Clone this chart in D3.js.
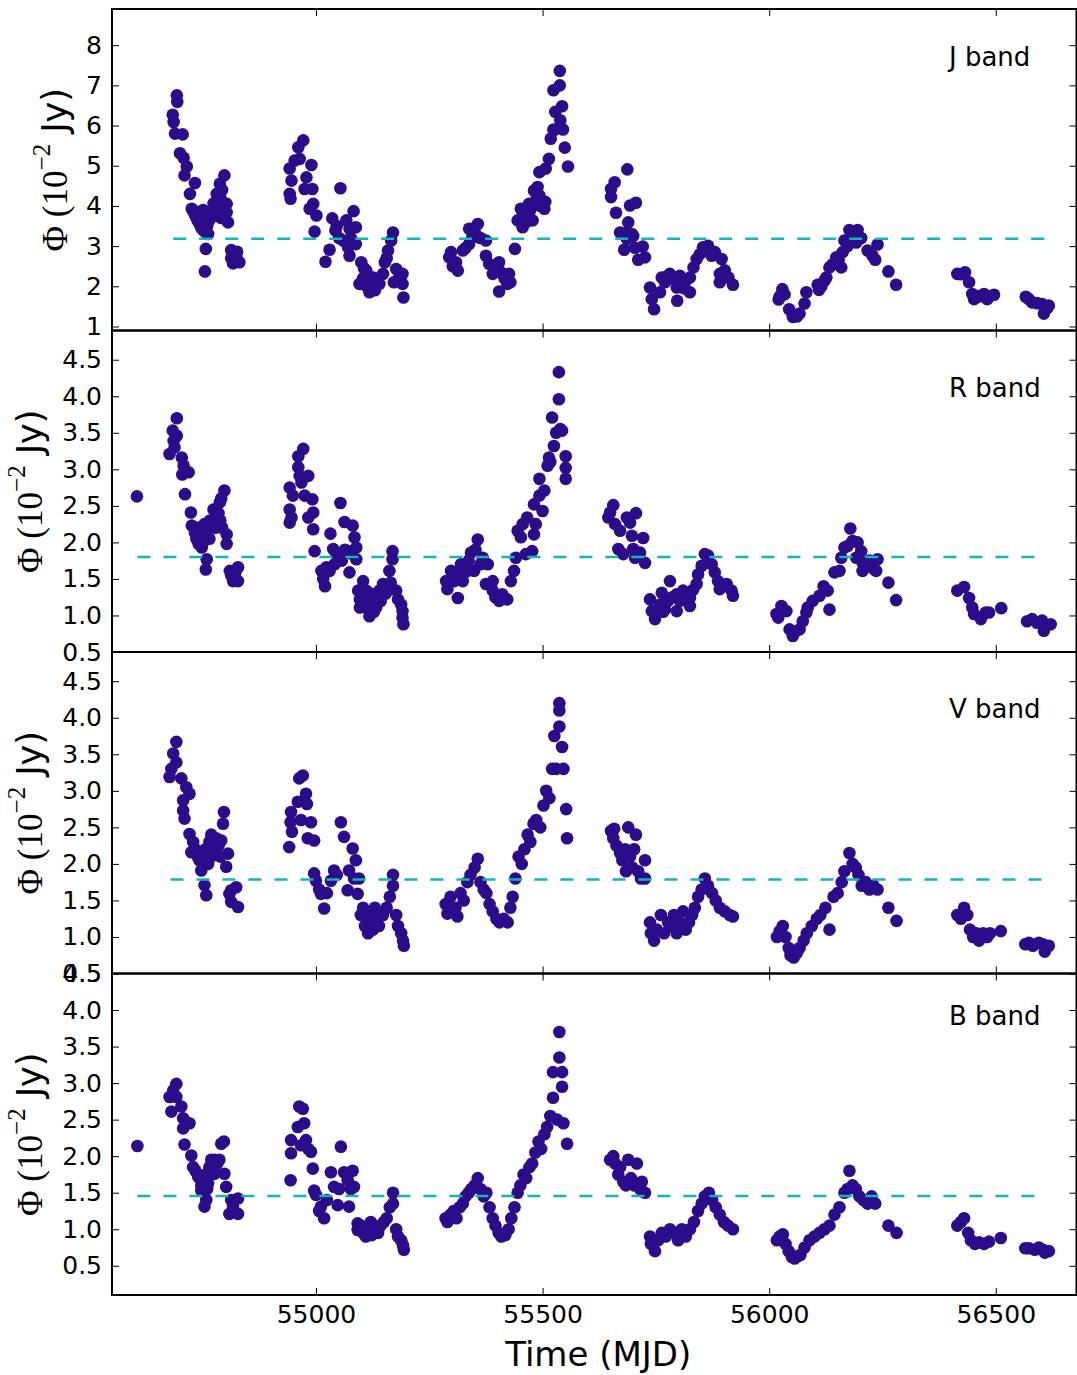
<!DOCTYPE html>
<html><head><meta charset="utf-8">
<script src="https://cdn.jsdelivr.net/npm/d3@7"></script>
<style>body{margin:0;background:#fff} svg{display:block}</style>
</head><body>
<svg id="c" width="1077" height="1375"></svg>
<script>
// ---------- DATA ----------
const bandNames = ["J band", "R band", "V band", "B band"];
const xTicks = [55000, 55500, 56000, 56500];
const yTicksJ = [1, 2, 3, 4, 5, 6, 7, 8];
const yTicksRV = [0.5, 1.0, 1.5, 2.0, 2.5, 3.0, 3.5, 4.0, 4.5];
const yTicksB = [0.5, 1.0, 1.5, 2.0, 2.5, 3.0, 3.5, 4.0, 4.5];
const yDomains = [[0.9, 8.9], [0.5, 4.9], [0.5, 4.9], [0.1, 4.5]];
const meanFlux = [3.185, 1.80, 1.785, 1.456];
const meanStart = [54685, 54606, 54679, 54606];
const meanEnd = [56615, 56594, 56615, 56594];

const jBand = [
[54693,6.75],[54694,6.59],[54684,6.27],[54686,6.09],[54689,5.80],[54706,5.78],[54700,5.31],[54708,5.20],[54715,4.98],[54710,4.76],[54733,4.57],[54722,4.30],[54726,3.93],
[54730,3.85],[54734,3.75],[54738,3.65],[54743,3.55],[54747,3.45],[54751,3.40],[54756,3.35],[54760,3.50],[54765,3.65],[54769,3.80],[54738,3.85],[54747,3.70],[54756,3.62],[54762,3.30],[54751,3.90],
[54757,2.93],[54755,2.37],
[54774,4.06],[54781,4.30],[54788,4.55],[54798,4.76],[54803,4.05],[54806,3.59],[54803,3.84],[54778,4.00],[54782,4.15],[54789,4.20],[54793,4.40],[54796,3.90],[54791,3.70],[54785,3.85],[54776,3.75],
[54813,2.90],[54826,2.86],[54813,2.70],[54831,2.60],[54817,2.57],[54824,2.75],
[54942,4.93],[54946,4.63],[54942,4.30],[54944,4.18],[54961,5.46],[54972,5.63],[54964,5.17],[54953,5.13],[54990,5.02],[54979,4.71],[54975,4.42],[54992,4.42],[54994,4.05],[54986,3.93],[55001,3.76],[54997,3.36],
[55054,4.44],[55036,3.69],[55067,3.64],[55083,3.87],[55043,3.39],[55074,3.43],[55088,3.47],[55030,2.91],[55021,2.61],[55060,3.14],[55071,2.97],[55074,2.76],[55088,3.05],
[55100,2.60],[55111,2.39],[55096,2.06],[55118,1.85],[55140,2.06],[55126,2.22],[55148,2.31],[55104,2.20],[55112,2.00],[55121,1.95],[55130,1.90],[55134,2.10],[55106,2.45],[55051,3.20],[55046,3.50],[55077,3.20],
[55170,3.34],[55159,2.89],[55152,2.60],[55177,2.43],[55191,2.31],[55191,2.06],[55193,1.72],[55166,3.14],[55156,2.70],[55183,2.20],[55172,2.10],
[55298,2.85],[55294,2.72],[55309,2.60],[55313,2.39],[55324,2.89],[55338,3.05],[55357,3.55],[55338,3.43],[55345,3.22],[55375,3.14],[55330,2.95],[55352,3.30],[55363,3.20],[55302,2.50],
[55375,2.76],[55382,2.56],[55390,2.31],[55404,2.60],[55408,2.35],[55426,2.31],[55422,2.06],[55404,1.87],[55396,2.40],[55416,2.20],[55429,2.10],
[55439,2.93],[55445,3.64],[55452,3.93],[55456,3.47],[55470,4.05],[55478,3.64],[55481,4.38],[55489,4.47],[55504,3.93],[55493,4.26],[55485,4.13],[55462,3.80],[55473,3.90],[55495,4.00],[55506,4.10],[55464,3.60],
[55493,4.84],[55507,4.93],[55514,5.17],[55518,5.67],[55525,5.88],[55538,7.36],[55524,6.88],[55538,7.00],[55543,6.48],[55528,6.34],[55539,6.13],[55524,5.90],[55545,5.90],[55549,5.45],[55556,4.98],
[55687,4.91],[55659,4.59],[55651,4.42],[55651,4.22],[55662,3.83],[55693,4.01],[55706,4.08],[55689,3.59],[55671,3.34],[55686,3.34],[55697,3.30],[55686,3.18],[55680,2.91],[55704,2.96],[55721,2.99],[55711,2.66],[55726,2.72],[55676,3.30],[55700,3.25],
[55737,1.97],[55741,1.68],[55746,1.43],[55763,2.22],[55781,2.31],[55759,1.85],[55796,1.97],[55797,1.64],[55803,2.26],[55825,1.85],[55825,2.22],[55833,2.47],[55840,2.68],[55854,2.97],[55865,3.01],[55873,2.76],[55895,2.68],[55891,2.31],[55891,2.10],[55910,2.22],[55920,2.04],[55770,2.10],[55788,2.20],[55814,2.10],[55847,2.80],[55880,2.85],[55858,2.90],[55902,2.40],[55812,1.95],[55775,2.25],
[56021,1.67],[56029,1.93],[56044,1.43],[56052,1.24],[56067,1.32],[56078,1.57],[56082,1.85],[56034,1.80],[56061,1.25],[56023,1.75],
[56110,1.91],[56107,2.04],[56122,2.14],[56126,2.22],[56133,2.47],[56148,2.72],[56162,2.85],[56159,2.47],[56166,3.14],[56177,3.40],[56195,3.40],[56192,3.09],[56184,3.14],[56217,2.89],[56228,2.76],[56239,3.04],[56234,2.66],[56263,2.37],[56280,2.04],[56140,2.55],[56173,3.00],[56203,3.20],[56115,2.00],[56153,2.65],
[56415,2.31],[56432,2.35],[56441,2.10],[56448,1.81],[56452,1.68],[56474,1.81],[56481,1.68],[56496,1.79],[56463,1.75],[56423,2.30],[56457,1.75],
[56566,1.74],[56580,1.60],[56602,1.56],[56617,1.52],[56606,1.32],[56573,1.68],[56591,1.58],[56613,1.45]
];

const rBand = [
[54605,2.63],
[54693,3.70],[54684,3.53],[54693,3.46],[54686,3.39],[54688,3.30],[54677,3.21],[54704,3.16],[54708,3.05],[54719,2.96],[54705,2.93],[54711,2.66],[54724,2.41],[54726,2.23],[54733,2.13],[54744,2.07],[54748,1.93],
[54736,2.05],[54741,1.98],[54751,2.00],[54756,2.10],[54760,2.20],[54765,2.05],[54769,2.25],[54738,2.20],[54747,2.15],[54754,2.25],
[54774,2.45],[54788,2.55],[54798,2.71],[54781,2.34],[54803,2.11],[54803,1.98],[54759,2.07],[54766,2.30],[54778,2.20],[54785,2.40],[54791,2.60],[54793,2.20],[54789,2.30],
[54759,1.77],[54757,1.63],[54810,1.61],[54828,1.66],[54817,1.47],[54828,1.47],[54813,1.55],[54822,1.58],
[54942,2.75],[54949,2.64],[54942,2.45],[54946,2.34],[54942,2.27],[54961,3.18],[54972,3.28],[54961,3.03],[54964,2.91],[54968,2.82],[54983,2.91],[54975,2.64],[54992,2.59],[54994,2.41],[54983,2.34],[54994,2.18],[54997,1.88],
[55054,2.54],[55063,2.28],[55081,2.23],[55085,2.07],[55089,1.93],[55071,1.88],[55089,1.77],[55032,2.12],[55038,1.91],[55045,1.84],[55041,1.70],[55023,1.66],[55012,1.61],[55016,1.50],[55020,1.40],[55030,1.61],[55074,1.59],[55051,1.85],[55064,1.90],[55077,1.85],[55057,1.75],
[55104,1.47],[55093,1.34],[55097,1.22],[55097,1.11],[55118,0.99],[55118,1.15],[55133,1.24],[55140,1.34],[55148,1.43],[55162,1.61],[55169,1.88],[55169,1.77],[55177,1.34],[55181,1.22],[55188,1.15],[55191,1.06],[55191,0.97],[55193,0.88],[55111,1.34],[55133,1.11],
[55106,1.20],[55113,1.10],[55123,1.20],[55128,1.05],[55143,1.20],[55154,1.30],[55165,1.45],[55101,1.30],[55121,1.30],
[55287,1.47],[55290,1.36],[55298,1.61],[55313,1.24],[55305,1.47],[55324,1.47],[55320,1.70],[55342,1.86],[55357,2.04],[55349,1.61],[55368,1.79],[55379,1.70],[55390,1.47],[55375,1.43],[55332,1.60],[55337,1.75],[55352,1.90],[55363,1.70],[55310,1.55],
[55390,1.34],[55404,1.20],[55422,1.22],[55411,1.29],[55396,1.25],
[55430,1.47],[55437,1.61],[55441,1.79],[55452,2.07],[55445,2.16],[55456,2.25],[55466,2.34],[55485,2.25],[55481,2.11],[55477,1.88],[55463,1.84],
[55481,2.52],[55493,2.64],[55504,2.71],[55500,2.43],[55493,2.87],[55511,3.05],[55514,3.16],[55525,3.32],[55521,3.71],[55536,3.96],[55543,3.53],[55536,4.33],[55551,3.18],[55551,3.02],[55551,2.87],[55530,3.50],[55539,3.55],[55517,3.10],
[55656,2.51],[55649,2.41],[55645,2.34],[55660,2.25],[55671,2.16],[55686,2.34],[55706,2.40],[55693,2.27],[55697,2.09],[55722,2.06],[55667,1.91],[55678,1.84],[55700,1.91],[55715,1.86],[55704,1.79],[55726,1.72],
[55737,1.22],[55741,1.06],[55748,0.95],[55763,1.31],[55781,1.47],[55770,1.08],[55796,1.06],[55796,1.29],[55810,1.34],[55825,1.13],[55825,1.24],[55840,1.43],[55843,1.56],[55851,1.68],[55858,1.84],[55865,1.82],[55880,1.59],[55887,1.47],[55891,1.36],[55906,1.43],[55917,1.34],[55920,1.27],
[55759,1.15],[55777,1.20],[55786,1.25],[55803,1.20],[55816,1.30],[55832,1.35],[55873,1.70],[55766,1.05],
[56016,1.02],[56027,1.13],[56038,1.06],[56020,0.97],[56045,0.81],[56052,0.72],[56067,0.81],[56074,0.92],[56082,1.04],[56085,1.11],[56096,1.20],[56111,1.27],[56120,1.40],[56129,1.34],[56133,1.08],[56144,1.59],[56155,1.61],[56159,1.79],[56166,1.93],[56179,2.19],[56184,2.02],[56195,2.00],[56203,1.88],[56192,1.79],[56206,1.72],[56206,1.61],[56221,1.75],[56232,1.63],[56239,1.77],[56236,1.61],[56263,1.45],[56280,1.21],[56058,0.78],[56173,1.95],[56213,1.70],
[56415,1.34],[56430,1.39],[56441,1.24],[56448,1.11],[56452,1.02],[56467,0.95],[56478,1.04],[56485,1.04],[56512,1.10],
[56569,0.92],[56580,0.95],[56602,0.93],[56606,0.79],[56621,0.88],[56591,0.90]
];

const vBand = [
[54692,3.67],[54685,3.51],[54692,3.39],[54681,3.30],[54677,3.19],[54703,3.17],[54714,3.05],[54721,2.96],[54707,2.87],[54707,2.73],[54710,2.62],[54721,2.41],[54729,2.30],[54725,2.16],[54740,2.09],[54747,1.91],[54762,2.00],[54776,2.18],[54791,2.32],[54795,2.55],[54797,2.71],[54806,2.14],[54802,1.96],[54754,1.71],[54758,1.57],
[54734,2.20],[54743,2.05],[54751,2.10],[54756,2.20],[54765,2.30],[54769,2.40],[54774,2.20],[54780,2.35],[54785,2.25],[54789,2.10],[54769,2.10],[54747,2.15],
[54813,1.64],[54824,1.68],[54813,1.48],[54828,1.41],[54809,1.59],
[54941,2.23],[54947,2.44],[54944,2.57],[54945,2.71],[54963,3.17],[54971,3.21],[54960,2.85],[54978,2.96],[54980,2.82],[54989,2.57],[54982,2.35],[54996,2.32],[54996,1.87],[55000,1.77],[55011,1.59],[55018,1.39],[55033,1.77],[55040,1.91],[55055,2.57],[55062,2.37],[55070,1.64],[55073,1.91],[55081,2.21],[55088,2.05],[55092,1.59],
[54967,2.60],[55007,1.65],[55024,1.60],[55046,1.85],[55084,1.80],[55095,1.80],
[55104,1.40],[55099,1.30],[55108,1.15],[55115,1.05],[55121,1.20],[55126,1.10],[55134,1.25],[55139,1.15],[55148,1.30],[55156,1.40],[55163,1.55],[55170,1.85],[55170,1.70],[55177,1.30],[55181,1.15],[55188,1.05],[55192,0.95],[55194,0.88],[55119,1.30],[55130,1.40],
[55286,1.45],[55290,1.32],[55297,1.55],[55308,1.40],[55312,1.28],[55319,1.60],[55326,1.50],[55334,1.75],[55341,1.85],[55350,1.95],[55357,2.07],[55363,1.75],[55370,1.65],[55376,1.60],[55383,1.45],[55390,1.35],[55398,1.25],[55405,1.20],[55414,1.25],[55423,1.20],[55429,1.40],[55434,1.55],
[55440,1.80],[55447,2.10],[55454,2.00],[55460,2.20],[55467,2.40],[55473,2.30],[55480,2.55],[55486,2.60],[55495,2.50],[55502,2.80],[55508,3.00],[55515,2.90],[55521,3.30],[55526,3.75],[55530,3.30],[55537,4.20],[55537,4.10],[55537,3.88],[55543,3.60],[55546,3.30],[55552,2.75],[55554,2.35],
[55651,2.45],[55658,2.48],[55656,2.35],[55663,2.25],[55671,2.15],[55676,2.05],[55682,2.20],[55689,2.50],[55693,2.10],[55698,1.95],[55706,2.40],[55702,2.20],[55711,1.90],[55717,1.80],[55726,2.05],[55726,1.80],[55684,1.90],
[55737,1.20],[55739,1.05],[55746,0.95],[55752,1.10],[55761,1.30],[55768,1.05],[55777,1.20],[55783,1.15],[55790,1.30],[55796,1.05],[55803,1.20],[55810,1.35],[55816,1.10],[55823,1.20],[55830,1.30],[55836,1.40],[55843,1.55],[55851,1.65],[55858,1.80],[55865,1.70],[55874,1.60],[55882,1.50],[55891,1.40],[55902,1.35],[55913,1.30],[55920,1.28],
[56017,1.00],[56023,1.08],[56030,1.15],[56036,1.00],[56043,0.85],[56047,0.75],[56054,0.72],[56061,0.78],[56067,0.85],[56076,0.95],[56083,1.05],[56094,1.15],[56105,1.25],[56113,1.30],[56124,1.40],[56133,1.10],[56142,1.55],[56151,1.60],[56160,1.75],[56166,1.90],[56177,2.15],[56184,2.00],[56191,1.95],[56197,1.85],[56204,1.70],[56213,1.75],[56221,1.65],[56230,1.70],[56239,1.65],[56263,1.40],[56281,1.22],
[56415,1.30],[56423,1.25],[56430,1.40],[56437,1.30],[56443,1.10],[56450,1.00],[56457,1.05],[56463,0.95],[56472,1.05],[56481,1.00],[56487,1.05],[56511,1.08],
[56565,0.90],[56573,0.92],[56582,0.88],[56595,0.92],[56604,0.90],[56608,0.80],[56617,0.88]
];

const bBand = [
[54606,2.14],
[54692,2.99],[54685,2.90],[54677,2.81],[54681,2.61],[54692,2.81],[54703,2.68],[54707,2.52],[54707,2.38],[54721,2.45],[54710,2.16],[54725,2.01],[54729,1.85],[54740,1.72],[54747,1.53],[54754,1.31],[54758,1.40],[54762,1.63],[54776,1.95],[54791,2.17],[54797,2.20],[54798,1.76],[54802,1.58],[54787,1.95],[54776,1.76],
[54734,1.80],[54743,1.70],[54751,1.65],[54756,1.75],[54765,1.85],[54769,1.95],[54774,1.80],[54782,1.90],[54747,1.60],[54760,1.55],
[54813,1.40],[54828,1.42],[54809,1.21],[54828,1.21],[54817,1.31],
[54944,1.67],[54945,2.04],[54945,2.22],[54960,2.40],[54963,2.68],[54971,2.65],[54974,2.45],[54978,2.22],[54989,2.06],[54993,1.83],[54996,1.53],[55000,1.47],[55011,1.31],[55018,1.15],[55033,1.78],[55040,1.58],[55048,1.33],[55055,2.13],[55062,1.78],[55070,1.67],[55073,1.31],[55084,1.58],[55092,1.08],[55092,0.99],
[54967,2.15],[54983,2.10],[55007,1.25],[55024,1.40],[55051,1.55],[55077,1.55],[55081,1.80],
[55099,1.05],[55104,0.95],[55110,0.90],[55117,1.00],[55123,0.92],[55130,1.00],[55137,0.95],[55143,1.05],[55150,1.10],[55156,1.15],[55163,1.30],[55170,1.50],[55170,1.35],[55177,1.00],[55181,0.90],[55188,0.85],[55192,0.78],[55194,0.72],[55121,1.10],
[55286,1.15],[55290,1.10],[55297,1.20],[55304,1.25],[55310,1.15],[55317,1.30],[55324,1.35],[55330,1.45],[55337,1.50],[55343,1.55],[55350,1.60],[55357,1.70],[55363,1.55],[55370,1.45],[55376,1.50],[55383,1.30],[55390,1.15],[55396,1.05],[55403,0.95],[55409,0.90],[55418,0.92],[55425,1.00],[55431,1.15],[55438,1.30],
[55445,1.50],[55451,1.60],[55458,1.75],[55464,1.70],[55471,1.85],[55477,1.90],[55484,2.05],[55491,2.20],[55497,2.10],[55504,2.30],[55510,2.40],[55517,2.55],[55523,2.80],[55523,3.15],[55532,2.50],[55537,3.35],[55537,3.70],[55543,3.15],[55543,2.95],[55546,2.45],[55554,2.17],
[55649,1.95],[55656,2.00],[55660,1.90],[55667,1.75],[55671,1.85],[55678,1.65],[55684,1.60],[55689,1.95],[55695,1.70],[55702,1.60],[55708,1.90],[55715,1.55],[55719,1.65],[55726,1.50],
[55737,0.90],[55739,0.80],[55748,0.70],[55755,0.85],[55763,0.95],[55772,0.90],[55781,1.00],[55790,0.95],[55799,0.85],[55807,1.00],[55816,0.90],[55825,1.00],[55834,1.10],[55843,1.25],[55851,1.35],[55858,1.45],[55867,1.50],[55874,1.40],[55882,1.30],[55891,1.20],[55900,1.10],[55909,1.05],[55920,1.00],
[56017,0.85],[56023,0.90],[56030,0.93],[56036,0.80],[56043,0.70],[56050,0.62],[56056,0.60],[56063,0.63],[56069,0.65],[56078,0.75],[56089,0.85],[56100,0.90],[56111,0.95],[56122,1.00],[56133,1.05],[56144,1.20],[56155,1.30],[56166,1.50],[56173,1.55],[56177,1.80],[56184,1.60],[56191,1.55],[56199,1.45],[56208,1.40],[56217,1.35],[56226,1.45],[56234,1.35],[56263,1.05],[56281,0.95],
[56415,1.05],[56423,1.10],[56430,1.15],[56439,0.95],[56445,0.85],[56454,0.80],[56463,0.82],[56474,0.80],[56485,0.83],[56511,0.88],
[56565,0.74],[56573,0.74],[56586,0.72],[56595,0.75],[56604,0.72],[56608,0.68],[56617,0.70]
];

// ---------- LAYOUT ----------
const series = [jBand, rBand, vBand, bBand];
const yTickSets = [yTicksJ, yTicksRV, yTicksRV, yTicksB];
const labelOffset = [57, 66.5, 66, 51.5];
const left = 112, right = 1076.5, top0 = 9, panelH = 321.5;
const ptColor = "#2b0c8a", lineColor = "#13b6b6";
const svg = d3.select("#c");
const x = d3.scaleLinear().domain([54550, 56678]).range([left, right]);

series.forEach((data, i) => {
  const t = top0 + i * panelH, b = t + panelH;
  const y = d3.scaleLinear().domain(yDomains[i]).range([b, t]);
  const g = svg.append("g");
  const fmt = i === 0 ? d3.format("d") : d3.format(".1f");

  g.append("g").selectAll("circle").data(data).join("circle")
    .attr("cx", d => x(d[0])).attr("cy", d => y(d[1])).attr("r", 6.3)
    .attr("fill", ptColor);

  g.append("line")
    .attr("x1", x(meanStart[i])).attr("x2", x(meanEnd[i]))
    .attr("y1", y(meanFlux[i])).attr("y2", y(meanFlux[i]))
    .attr("stroke", lineColor).attr("stroke-width", 2.5)
    .attr("stroke-dasharray", "13,13");

  const yl = g.append("g").attr("transform", `translate(${left},0)`)
    .call(d3.axisLeft(y).tickValues(yTickSets[i]).tickFormat(fmt).tickSize(-7).tickPadding(10));
  yl.select(".domain").remove();
  yl.selectAll("text").attr("font-family", "DejaVu Sans").attr("font-size", 25).attr("fill", "#000");
  yl.selectAll("line").attr("stroke", "#000");
  const yr = g.append("g").attr("transform", `translate(${right},0)`)
    .call(d3.axisRight(y).tickValues(yTickSets[i]).tickSize(-7).tickFormat(""));
  yr.select(".domain").remove();
  yr.selectAll("line").attr("stroke", "#000");
  const xb = g.append("g").attr("transform", `translate(0,${b})`)
    .call(d3.axisBottom(x).tickValues(xTicks).tickSize(-7).tickFormat(i === 3 ? d3.format("d") : "").tickPadding(10));
  xb.select(".domain").remove();
  xb.selectAll("line").attr("stroke", "#000");
  xb.selectAll("text").attr("font-family", "DejaVu Sans").attr("font-size", 25).attr("fill", "#000");
  const xt = g.append("g").attr("transform", `translate(0,${t})`)
    .call(d3.axisTop(x).tickValues(xTicks).tickSize(-7).tickFormat(""));
  xt.select(".domain").remove();
  xt.selectAll("line").attr("stroke", "#000");

  g.append("rect").attr("x", left).attr("y", t).attr("width", right - left).attr("height", panelH)
    .attr("fill", "none").attr("stroke", "#000").attr("stroke-width", 2);

  g.append("text").attr("x", 949).attr("y", t + labelOffset[i]).attr("font-family", "DejaVu Sans")
    .attr("font-size", 26).attr("fill", "#000").text(bandNames[i]);

  const lx = i === 0 ? 55 : 30;
  const yt = g.append("text")
    .attr("transform", `translate(${lx},${(t + b) / 2}) rotate(-90)`)
    .attr("text-anchor", "middle").attr("dominant-baseline", "central").attr("font-size", 35).attr("fill", "#000");
  yt.append("tspan").attr("font-family", "Liberation Serif").text("Φ (10");
  yt.append("tspan").attr("font-family", "Liberation Serif").attr("font-size", 25).attr("dy", -14).text("−2");
  yt.append("tspan").attr("font-family", "DejaVu Sans").attr("dy", 14).text(" Jy)");
});

svg.append("text").attr("x", (left + right) / 2 + 4).attr("y", 1366)
  .attr("text-anchor", "middle").attr("font-family", "DejaVu Sans").attr("font-size", 34)
  .attr("fill", "#000").text("Time (MJD)");
</script>
</body></html>
